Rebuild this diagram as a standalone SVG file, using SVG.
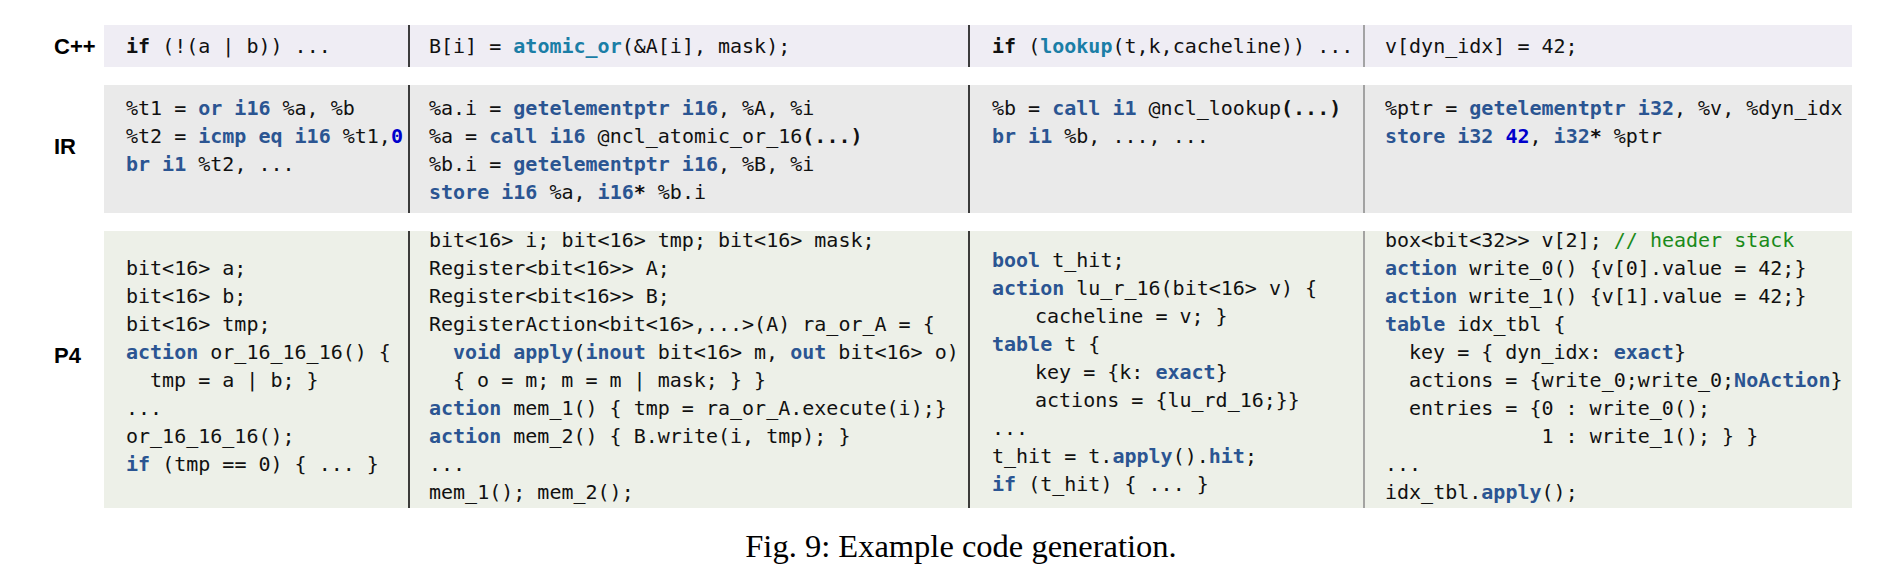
<svg xmlns="http://www.w3.org/2000/svg" width="1898" height="577" viewBox="0 0 1898 577" xml:space="preserve">
<style>
.code{font-family:"DejaVu Sans Mono","Liberation Mono",monospace;font-size:20px;fill:#111;white-space:pre}
.kw{font-weight:bold;fill:#2b5592}
.fn{font-weight:bold;fill:#1b7ea6}
.num{font-weight:bold;fill:#0000cc}
.b{font-weight:bold}
.cm{fill:#1a8a1a}
.lbl{font-family:"Liberation Sans",Arial,sans-serif;font-size:22px;font-weight:bold;fill:#000}
.cap{font-family:"Liberation Serif","Times New Roman",serif;font-size:32.5px;fill:#000}
.div1{stroke:#000;stroke-width:1.5}
.div2{stroke:#8a8a8a;stroke-width:1.5}
</style>
<rect width="1898" height="577" fill="#fff"/>
<g id="bands">
<rect x="104" y="25" width="1748" height="42" fill="#efedf4"/>
<rect x="104" y="85" width="1748" height="128" fill="#eaeaea"/>
<rect x="104" y="231" width="1748" height="277" fill="#edf0e8"/>
</g>
<g id="labels" class="lbl">
<text x="54" y="54">C++</text>
<text x="54" y="154">IR</text>
<text x="54" y="363">P4</text>
</g>
<g id="dividers">
<line class="div1" x1="409" y1="25" x2="409" y2="67"/>
<line class="div1" x1="409" y1="85" x2="409" y2="213"/>
<line class="div1" x1="409" y1="231" x2="409" y2="508"/>
<line class="div1" x1="969" y1="25" x2="969" y2="67"/>
<line class="div1" x1="969" y1="85" x2="969" y2="213"/>
<line class="div1" x1="969" y1="231" x2="969" y2="508"/>
<line class="div2" x1="1364" y1="25" x2="1364" y2="67"/>
<line class="div2" x1="1364" y1="85" x2="1364" y2="213"/>
<line class="div2" x1="1364" y1="231" x2="1364" y2="508"/>
</g>
<g id="connectors"></g>
<g id="cpp-1" class="code"><text x="126" y="53"><tspan class="b">if</tspan> (!(a | b)) ...</text></g>
<g id="cpp-2" class="code"><text x="429" y="53">B[i] = <tspan class="fn">atomic_or</tspan>(&amp;A[i], mask);</text></g>
<g id="cpp-3" class="code"><text x="992" y="53"><tspan class="b">if</tspan> (<tspan class="fn">lookup</tspan>(t,k,cacheline)) ...</text></g>
<g id="cpp-4" class="code"><text x="1385" y="53">v[dyn_idx] = 42;</text></g>
<g id="ir-1" class="code">
<text x="126" y="115">%t1 = <tspan class="kw">or i16</tspan> %a, %b</text>
<text x="126" y="143">%t2 = <tspan class="kw">icmp eq i16</tspan> %t1,<tspan class="num">0</tspan></text>
<text x="126" y="171"><tspan class="kw">br i1</tspan> %t2, ...</text>
</g>
<g id="ir-2" class="code">
<text x="429" y="115">%a.i = <tspan class="kw">getelementptr i16</tspan>, %A, %i</text>
<text x="429" y="143">%a = <tspan class="kw">call i16</tspan> @ncl_atomic_or_16<tspan class="b">(...)</tspan></text>
<text x="429" y="171">%b.i = <tspan class="kw">getelementptr i16</tspan>, %B, %i</text>
<text x="429" y="199"><tspan class="kw">store i16</tspan> %a, <tspan class="kw">i16</tspan><tspan class="b">*</tspan> %b.i</text>
</g>
<g id="ir-3" class="code">
<text x="992" y="115">%b = <tspan class="kw">call i1</tspan> @ncl_lookup<tspan class="b">(...)</tspan></text>
<text x="992" y="143"><tspan class="kw">br i1</tspan> %b, ..., ...</text>
</g>
<g id="ir-4" class="code">
<text x="1385" y="115">%ptr = <tspan class="kw">getelementptr i32</tspan>, %v, %dyn_idx</text>
<text x="1385" y="143"><tspan class="kw">store i32</tspan> <tspan class="num">42</tspan>, <tspan class="kw">i32</tspan><tspan class="b">*</tspan> %ptr</text>
</g>
<g id="p4-1" class="code">
<text x="126" y="275">bit&lt;16&gt; a;</text>
<text x="126" y="303">bit&lt;16&gt; b;</text>
<text x="126" y="331">bit&lt;16&gt; tmp;</text>
<text x="126" y="359"><tspan class="kw">action</tspan> or_16_16_16() {</text>
<text x="150" y="387">tmp = a | b; }</text>
<text x="126" y="415">...</text>
<text x="126" y="443">or_16_16_16();</text>
<text x="126" y="471"><tspan class="kw">if</tspan> (tmp == 0) { ... }</text>
</g>
<g id="p4-2" class="code">
<text x="429" y="247">bit&lt;16&gt; i; bit&lt;16&gt; tmp; bit&lt;16&gt; mask;</text>
<text x="429" y="275">Register&lt;bit&lt;16&gt;&gt; A;</text>
<text x="429" y="303">Register&lt;bit&lt;16&gt;&gt; B;</text>
<text x="429" y="331">RegisterAction&lt;bit&lt;16&gt;,...&gt;(A) ra_or_A = {</text>
<text x="453" y="359"><tspan class="kw">void apply</tspan>(<tspan class="kw">inout</tspan> bit&lt;16&gt; m, <tspan class="kw">out</tspan> bit&lt;16&gt; o)</text>
<text x="453" y="387">{ o = m; m = m | mask; } }</text>
<text x="429" y="415"><tspan class="kw">action</tspan> mem_1() { tmp = ra_or_A.execute(i);}</text>
<text x="429" y="443"><tspan class="kw">action</tspan> mem_2() { B.write(i, tmp); }</text>
<text x="429" y="471">...</text>
<text x="429" y="499">mem_1(); mem_2();</text>
</g>
<g id="p4-3" class="code">
<text x="992" y="267"><tspan class="kw">bool</tspan> t_hit;</text>
<text x="992" y="295"><tspan class="kw">action</tspan> lu_r_16(bit&lt;16&gt; v) {</text>
<text x="1035" y="323">cacheline = v; }</text>
<text x="992" y="351"><tspan class="kw">table</tspan> t {</text>
<text x="1035" y="379">key = {k: <tspan class="kw">exact</tspan>}</text>
<text x="1035" y="407">actions = {lu_rd_16;}}</text>
<text x="992" y="435">...</text>
<text x="992" y="463">t_hit = t.<tspan class="kw">apply</tspan>().<tspan class="kw">hit</tspan>;</text>
<text x="992" y="491"><tspan class="kw">if</tspan> (t_hit) { ... }</text>
</g>
<g id="p4-4" class="code">
<text x="1385" y="247">box&lt;bit&lt;32&gt;&gt; v[2]; <tspan class="cm">// header stack</tspan></text>
<text x="1385" y="275"><tspan class="kw">action</tspan> write_0() {v[0].value = 42;}</text>
<text x="1385" y="303"><tspan class="kw">action</tspan> write_1() {v[1].value = 42;}</text>
<text x="1385" y="331"><tspan class="kw">table</tspan> idx_tbl {</text>
<text x="1409" y="359">key = { dyn_idx: <tspan class="kw">exact</tspan>}</text>
<text x="1409" y="387">actions = {write_0;write_0;<tspan class="kw">NoAction</tspan>}</text>
<text x="1409" y="415">entries = {0 : write_0();</text>
<text x="1541.5" y="443">1 : write_1(); } }</text>
<text x="1385" y="471">...</text>
<text x="1385" y="499">idx_tbl.<tspan class="kw">apply</tspan>();</text>
</g>
<g id="caption"><text class="cap" x="961" y="557" text-anchor="middle">Fig. 9: Example code generation.</text></g>
</svg>
